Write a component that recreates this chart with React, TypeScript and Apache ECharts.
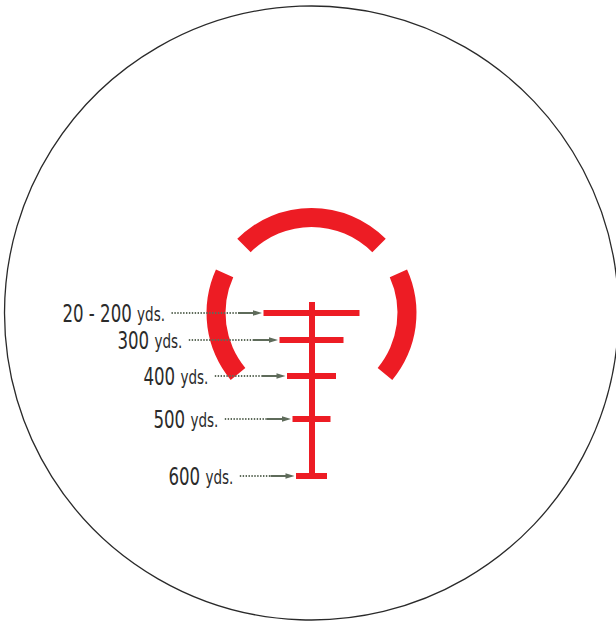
import React, { useEffect, useRef } from "react";
import * as echarts from "echarts";

// Reticle data (reticle units, 0,0 = aiming centre, y grows downward)
const yardages = ["20 - 200", "300", "400", "500", "600"];
const unitLabel = "yds.";
const holdover = [0, 27, 63, 106, 163];
const barWidth = [96, 64, 49, 38, 31];
const postRange = [-11, 165];
const ringArcs = [
  [45, 135],
  [155.5, 219.7],
  [-39.7, 24.5],
];
const ringRadius = [86, 105];
const fieldRadius = 307;

// layout (not data)
const labelRight = [-146.5, -129.2, -103.2, -93.2, -78.2];
const RED = "#ED1C24";
const ARROW = "#5e6b5a";
const TEXT = "#2b2b2b";
const FONT = "'DejaVu Sans Condensed', 'Liberation Sans Narrow', sans-serif";
const BAR_H = 6;

export default function App() {
  const ref = useRef<HTMLDivElement>(null);
  useEffect(() => {
    document.body.style.margin = "0";
    const chart = echarts.init(ref.current!, null, { renderer: "svg" });

    const rectFrom = (api: any, x0: number, y0: number, x1: number, y1: number) => {
      const a = api.coord([x0, y0]);
      const b = api.coord([x1, y1]);
      return {
        x: Math.min(a[0], b[0]),
        y: Math.min(a[1], b[1]),
        width: Math.abs(b[0] - a[0]),
        height: Math.abs(b[1] - a[1]),
      };
    };

    chart.setOption({
      animation: false,
      grid: { left: 0, right: 0, top: 0, bottom: 0 },
      xAxis: { type: "value", min: -311.5, max: 304.5, show: false },
      yAxis: { type: "value", min: -313, max: 308, inverse: true, show: false },
      series: [
        {
          type: "custom",
          name: "field",
          data: [[0, 0]],
          renderItem: (_p: any, api: any) => {
            const c = api.coord([0, 0]);
            const r = api.size([fieldRadius, 0])[0];
            return {
              type: "circle",
              shape: { cx: c[0], cy: c[1], r },
              style: { fill: "none", stroke: "#2a2a2a", lineWidth: 1.3 },
            };
          },
        },
        {
          type: "custom",
          name: "ring",
          data: ringArcs.map((a) => [a[0], a[1]]),
          renderItem: (_p: any, api: any) => {
            const c = api.coord([0, 0]);
            const s = api.value(0) as number;
            const e = api.value(1) as number;
            return {
              type: "sector",
              shape: {
                cx: c[0],
                cy: c[1],
                r0: api.size([ringRadius[0], 0])[0],
                r: api.size([ringRadius[1], 0])[0],
                startAngle: (-e * Math.PI) / 180,
                endAngle: (-s * Math.PI) / 180,
                clockwise: true,
              },
              style: { fill: RED },
            };
          },
        },
        {
          type: "custom",
          name: "arrows",
          data: holdover.map((d, i) => [d, barWidth[i]]),
          renderItem: (p: any, api: any) => {
            const i = p.dataIndex;
            const d = api.value(0) as number;
            const w = api.value(1) as number;
            const start = api.coord([labelRight[i] + 6.5, d]);
            const tip = api.coord([-w / 2 - 1.5, d]);
            const y = tip[1];
            return {
              type: "group",
              children: [
                {
                  type: "line",
                  shape: { x1: start[0], y1: y, x2: tip[0] - 24, y2: y },
                  style: { stroke: ARROW, lineWidth: 2, lineDash: [1.4, 1.5] },
                },
                {
                  type: "line",
                  shape: { x1: tip[0] - 24, y1: y, x2: tip[0] - 7, y2: y },
                  style: { stroke: ARROW, lineWidth: 2 },
                },
                {
                  type: "polygon",
                  shape: {
                    points: [
                      [tip[0], y],
                      [tip[0] - 9, y - 2.8],
                      [tip[0] - 9, y + 2.8],
                    ],
                  },
                  style: { fill: ARROW },
                },
              ],
            };
          },
        },
        {
          type: "custom",
          name: "post",
          data: [postRange],
          renderItem: (_p: any, api: any) => ({
            type: "rect",
            shape: rectFrom(api, -BAR_H / 2 + 0.5, api.value(0), BAR_H / 2 + 0.5, api.value(1)),
            style: { fill: RED },
          }),
        },
        {
          type: "custom",
          name: "bars",
          data: holdover.map((d, i) => [d, barWidth[i]]),
          renderItem: (_p: any, api: any) => {
            const d = api.value(0) as number;
            const w = api.value(1) as number;
            return {
              type: "rect",
              shape: rectFrom(api, -w / 2, d - BAR_H / 2, w / 2, d + BAR_H / 2),
              style: { fill: RED },
            };
          },
        },
        {
          type: "custom",
          name: "labels",
          data: holdover.map((d, i) => [d, i]),
          renderItem: (p: any, api: any) => {
            const i = p.dataIndex;
            const d = api.value(0) as number;
            const pt = api.coord([labelRight[i], d]);
            return {
              type: "text",
              x: pt[0],
              y: pt[1] + 1,
              scaleX: 0.77,
              style: {
                text: `{a|${yardages[i]} }{b|${unitLabel}}`,
                align: "right",
                verticalAlign: "middle",
                fill: TEXT,
                rich: {
                  a: { fontSize: 24, fontFamily: FONT, fill: TEXT },
                  b: { fontSize: 19.5, fontFamily: FONT, fill: TEXT },
                },
              },
            };
          },
        },
      ],
    });
    return () => chart.dispose();
  }, []);
  return <div ref={ref} style={{ width: 616, height: 621 }} />;
}
